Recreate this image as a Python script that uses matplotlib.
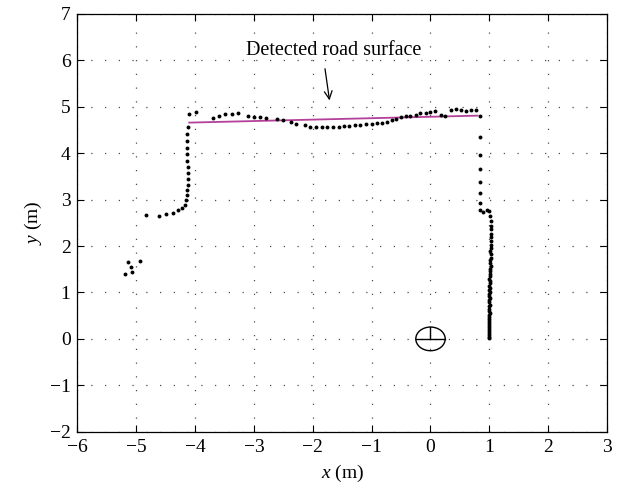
import numpy as np
import matplotlib
matplotlib.use('Agg')
import matplotlib.pyplot as plt
from matplotlib.patches import Ellipse

plt.rcParams['font.family'] = ['Liberation Serif', 'DejaVu Serif']
plt.rcParams['mathtext.fontset'] = 'custom'
plt.rcParams['mathtext.it'] = 'Liberation Serif:italic'
plt.rcParams['mathtext.rm'] = 'Liberation Serif'

# scan points (m)
cluster_x = [-5.14, -4.93, -5.09, -5.08, -5.20]
cluster_y = [1.66, 1.68, 1.54, 1.44, 1.39]

left_x = [-4.83, -4.61, -4.50, -4.38, -4.30, -4.22, -4.17, -4.15, -4.14, -4.14,
          -4.13, -4.13, -4.13, -4.13, -4.14, -4.14, -4.14, -4.14, -4.14, -4.13,
          -4.10, -3.99]
left_y = [2.66, 2.64, 2.69, 2.72, 2.78, 2.83, 2.89, 3.00, 3.10, 3.21,
          3.32, 3.44, 3.57, 3.71, 3.84, 3.99, 4.11, 4.26, 4.41, 4.57,
          4.84, 4.89]

top_x = [-3.70, -3.60, -3.49, -3.38, -3.28, -3.11, -3.00, -2.90, -2.80, -2.61,
         -2.50, -2.37, -2.28, -2.14, -2.04, -1.95, -1.85, -1.76, -1.66, -1.56,
         -1.47, -1.38, -1.29, -1.20, -1.10, -1.00, -0.91, -0.83, -0.74, -0.66,
         -0.58, -0.50, -0.42, -0.34, -0.25, -0.17, -0.08, 0.00, 0.08, 0.17,
         0.25, 0.34, 0.43, 0.52, 0.60, 0.69, 0.78, 0.84]
top_y = [4.76, 4.81, 4.84, 4.84, 4.86, 4.81, 4.78, 4.78, 4.76, 4.73,
         4.71, 4.68, 4.64, 4.61, 4.57, 4.56, 4.56, 4.56, 4.56, 4.57,
         4.58, 4.59, 4.60, 4.61, 4.63, 4.64, 4.66, 4.66, 4.68, 4.71,
         4.73, 4.77, 4.81, 4.81, 4.83, 4.86, 4.87, 4.88, 4.91, 4.83,
         4.80, 4.93, 4.96, 4.94, 4.91, 4.94, 4.94, 4.80]

right_x = [0.84, 0.84, 0.84, 0.84, 0.84, 0.84, 0.84, 0.89, 0.96, 1.00, 1.01]
right_y = [4.34, 3.97, 3.66, 3.38, 3.14, 2.93, 2.77, 2.73, 2.78, 2.75, 2.64]

col_x = [1.02, 1.02, 1.02, 1.02, 1.02, 1.02, 1.02, 1.02, 1.01, 1.02,
         1.02, 1.01, 1.01, 1.02, 1.01, 1.01, 1.01, 1.01, 1.00, 1.01,
         1.01, 1.00, 1.01, 1.00, 1.01, 1.00, 1.00, 1.01, 1.00, 1.00,
         1.01, 1.00, 1.00, 1.00, 1.01, 1.00, 1.00, 1.00, 1.00, 0.99,
         1.00, 1.00, 0.99, 1.00, 0.99, 0.99, 1.00, 1.00]
col_y = [2.53, 2.44, 2.36, 2.27, 2.19, 2.11, 2.03, 1.96, 1.89, 1.82,
         1.75, 1.69, 1.63, 1.57, 1.51, 1.46, 1.40, 1.35, 1.30, 1.25,
         1.20, 1.15, 1.10, 1.06, 1.01, 0.97, 0.92, 0.88, 0.83, 0.79,
         0.74, 0.70, 0.65, 0.61, 0.56, 0.52, 0.47, 0.43, 0.38, 0.34,
         0.29, 0.25, 0.21, 0.16, 0.12, 0.08, 0.04, 0.01]

# fitted road surface line
road_x = [-4.10, 0.80]
road_y = [4.66, 4.81]

xs = cluster_x + left_x + top_x + right_x + col_x
ys = cluster_y + left_y + top_y + right_y + col_y

fig = plt.figure(figsize=(6.18, 4.98), dpi=100)
ax = fig.add_axes([0.1254, 0.1331, 0.8568, 0.8388])

ax.plot(road_x, road_y, color='#b4409a', lw=1.3, zorder=2)
ax.plot(xs, ys, 'o', color='k', markersize=2.8, markeredgewidth=0, zorder=3)

# sensor symbol at origin
ax.add_patch(Ellipse((0, 0), 0.5, 0.51, fill=False, ec='k', lw=1.0, zorder=3))
ax.plot([-0.25, 0.25], [0, 0], color='k', lw=1.0)
ax.plot([0, 0], [0, 0.255], color='k', lw=1.0)

ax.annotate('', xy=(-1.71, 5.08), xytext=(-1.80, 5.88),
            arrowprops=dict(arrowstyle='->', color='k', lw=0.9,
                            mutation_scale=14))
ax.text(-1.65, 6.12, 'Detected road surface', ha='center', va='baseline',
        fontsize=14.5)

ax.set_xlim(-6, 3)
ax.set_ylim(-2, 7)
ax.set_xticks(np.arange(-6, 4, 1))
ax.set_yticks(np.arange(-2, 8, 1))
ax.grid(True, linestyle=(0, (1, 10)), color='0.3', linewidth=0.9)
ax.tick_params(direction='in', top=True, right=True, length=5, width=0.8,
               labelsize=14, pad=5)
for s in ax.spines.values():
    s.set_linewidth(0.9)

ax.set_xlabel('$x$ (m)', fontsize=14, labelpad=5)
ax.set_ylabel('$y$ (m)', fontsize=14, labelpad=4)

fig.savefig('out.png', dpi=100)
